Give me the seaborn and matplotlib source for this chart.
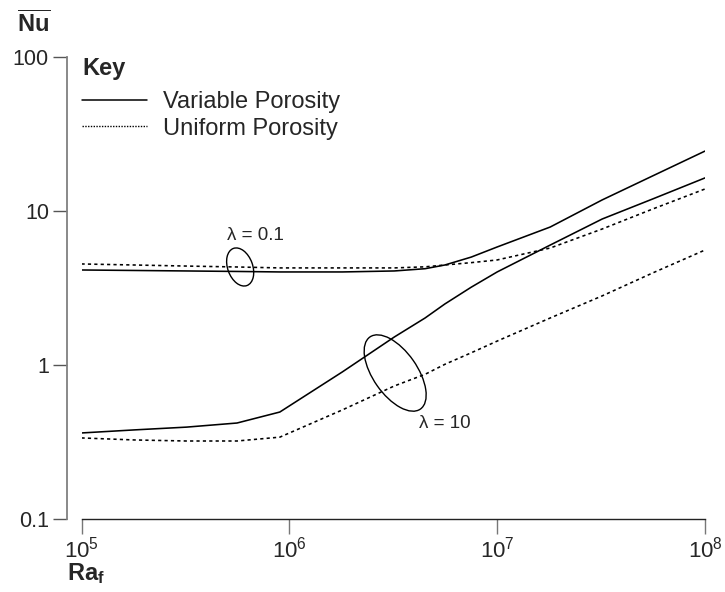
import numpy as np
import pandas as pd
import matplotlib
matplotlib.use("Agg")
import matplotlib.pyplot as plt
import matplotlib.transforms as mtransforms
from matplotlib.patches import Ellipse
from matplotlib.lines import Line2D
import seaborn as sns

# Data (log-log)
ra = [1e5, 1.8e5, 3.2e5, 5.6e5, 9e5, 1.8e6, 3.2e6, 4.5e6, 5.6e6, 7.5e6, 1e7, 1.8e7, 3.2e7, 5.6e7, 1e8]
nu_var_01 = [4.14, 4.11, 4.08, 4.05, 4.02, 4.02, 4.08, 4.22, 4.46, 5.02, 5.84, 7.87, 11.8, 16.9, 24.5]
nu_uni_01 = [4.53, 4.46, 4.39, 4.33, 4.27, 4.27, 4.27, 4.34, 4.46, 4.62, 4.81, 5.75, 7.64, 10.3, 13.9]
nu_var_10 = [0.362, 0.379, 0.395, 0.420, 0.495, 0.902, 1.52, 2.02, 2.49, 3.2, 4.02, 6.01, 8.87, 11.97, 16.4]
nu_uni_10 = [0.336, 0.326, 0.321, 0.321, 0.340, 0.511, 0.731, 0.87, 1.01, 1.20, 1.43, 2.02, 2.81, 3.96, 5.58]

y_ticks = [0.1, 1, 10, 100]
y_tick_labels = ["0.1", "1", "10", "100"]
x_ticks = [1e5, 1e6, 1e7, 1e8]

series = {
    ("0.1", "Variable Porosity"): nu_var_01,
    ("0.1", "Uniform Porosity"): nu_uni_01,
    ("10", "Variable Porosity"): nu_var_10,
    ("10", "Uniform Porosity"): nu_uni_10,
}
rows = []
for (lam, por), vals in series.items():
    for r, n in zip(ra, vals):
        rows.append({"Ra": r, "Nu": n, "lam": lam, "porosity": por, "unit": lam + por})
df = pd.DataFrame(rows)

sns.set_style("ticks")
plt.rcParams["font.family"] = ["Liberation Sans", "DejaVu Sans"]
plt.rcParams["mathtext.fontset"] = "custom"
plt.rcParams["mathtext.rm"] = "Liberation Sans"
plt.rcParams["mathtext.bf"] = "Liberation Sans:bold"
plt.rcParams["mathtext.it"] = "Liberation Sans:italic"

W, H = 725, 592
fig = plt.figure(figsize=(W / 100, H / 100), dpi=100)
ax = fig.add_axes([81.5 / W, (H - 519) / H, (705 - 81.5) / W, (519 - 57) / H])

sns.lineplot(data=df, x="Ra", y="Nu", units="unit", style="porosity", estimator=None,
             dashes={"Variable Porosity": "", "Uniform Porosity": (2, 2)},
             color="black", linewidth=1.15, legend=False, ax=ax)

ax.set_xscale("log")
ax.set_yscale("log")
ax.set_xlim(1e5, 1e8)
ax.set_ylim(0.1, 100)
ax.set_xticks(x_ticks)
ax.set_yticks(y_ticks, labels=y_tick_labels)
ax.minorticks_off()
ax.set_xlabel("")
ax.set_ylabel("")

for s in ["top", "right"]:
    ax.spines[s].set_visible(False)
ax.spines["left"].set_position(("outward", 10.4))
ax.spines["left"].set_color("#808080")
ax.spines["left"].set_linewidth(1.3)
ax.spines["bottom"].set_color("#222222")
ax.spines["bottom"].set_linewidth(1.0)
ax.tick_params(axis="y", length=10, width=1.0, color="#555555", pad=3, labelsize=15.5)
ax.tick_params(axis="x", length=10.5, width=1.0, color="#777777", pad=2, labelsize=16)

# ellipses marking curve pairs
def ring(xc, yc, w_px, h_px, angle):
    trans = fig.dpi_scale_trans + mtransforms.ScaledTranslation(xc, yc, ax.transData)
    ax.add_patch(Ellipse((0, 0), w_px / 100, h_px / 100, angle=angle, transform=trans,
                         fill=False, edgecolor="black", linewidth=1.0))

ring(5.8e5, 4.33, 25, 39.5, 20)
ring(3.23e6, 0.887, 44, 88, 35)
ax.text(6.9e5, 6.98, "λ = 0.1", ha="center", va="center", fontsize=13.5)
ax.text(5.6e6, 0.414, "λ = 10", ha="center", va="center", fontsize=13.5)

# axis titles
fig.text(17 / W, 1 - 24 / H, r"$\overline{\mathbf{Nu}}$", ha="left", va="center", fontsize=17)
fig.text(67 / W, 1 - 574 / H, r"$\mathbf{Ra_f}$", ha="left", va="center", fontsize=17)

# key
fig.text(82 / W, 1 - 69 / H, "Key", ha="left", va="center", fontsize=17, fontweight="bold")
handles = [Line2D([], [], color="black", lw=1.1),
           Line2D([], [], color="black", lw=1.0, linestyle=(0, (1, 1)))]
leg = ax.legend(handles, ["Variable Porosity", "Uniform Porosity"],
                loc="upper left", bbox_to_anchor=(82 / W, 1 - 91 / H),
                bbox_transform=fig.transFigure, frameon=False, fontsize=17,
                handlelength=2.75, handletextpad=0.68, labelspacing=0.2,
                borderpad=0, borderaxespad=0)

fig.savefig("out.png", dpi=100)
